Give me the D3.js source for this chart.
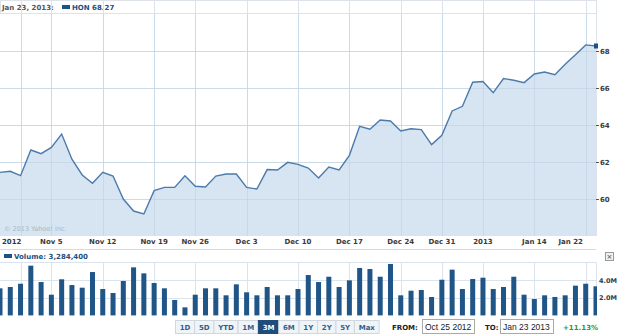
<!DOCTYPE html>
<html>
<head>
<meta charset="utf-8">
<script src="https://cdn.jsdelivr.net/npm/d3@7"></script>
<style>
  body { margin: 0; background: #fff; }
  svg { display: block; font-family: "DejaVu Sans", Verdana, sans-serif; }
  .grid line { stroke: #dbe4ed; stroke-width: 1; }
  .axislbl { font-size: 7px; font-weight: bold; fill: #3a3a3a; }
</style>
</head>
<body>
<div id="chart"></div>
<script>
// trading days, Oct 25 2012 .. Jan 23 2013
var dates = ['2012-10-25','2012-10-26','2012-10-31','2012-11-01','2012-11-02',
  '2012-11-05','2012-11-06','2012-11-07','2012-11-08','2012-11-09',
  '2012-11-12','2012-11-13','2012-11-14','2012-11-15','2012-11-16',
  '2012-11-19','2012-11-20','2012-11-21','2012-11-23',
  '2012-11-26','2012-11-27','2012-11-28','2012-11-29','2012-11-30',
  '2012-12-03','2012-12-04','2012-12-05','2012-12-06','2012-12-07',
  '2012-12-10','2012-12-11','2012-12-12','2012-12-13','2012-12-14',
  '2012-12-17','2012-12-18','2012-12-19','2012-12-20','2012-12-21',
  '2012-12-24','2012-12-26','2012-12-27','2012-12-28','2012-12-31',
  '2013-01-02','2013-01-03','2013-01-04',
  '2013-01-07','2013-01-08','2013-01-09','2013-01-10','2013-01-11',
  '2013-01-14','2013-01-15','2013-01-16','2013-01-17','2013-01-18',
  '2013-01-22','2013-01-23'];

var closes = [61.44, 61.50, 61.26, 62.65, 62.45, 62.79, 63.51, 62.15, 61.30, 60.85,
  61.44, 61.24, 60.00, 59.35, 59.19, 60.45, 60.63, 60.63, 61.26, 60.69,
  60.65, 61.24, 61.35, 61.35, 60.63, 60.54, 61.59, 61.57, 61.98, 61.87,
  61.67, 61.14, 61.73, 61.57, 62.36, 63.93, 63.77, 64.27, 64.22, 63.68,
  63.80, 63.75, 62.94, 63.44, 64.76, 65.01, 66.31, 66.35, 65.75, 66.51,
  66.42, 66.29, 66.76, 66.86, 66.72, 67.28, 67.80, 68.33, 68.27];

// volume in millions
var volumes = [3.06, 3.21, 3.58, 5.62, 3.77, 2.34, 4.08, 3.43, 3.13, 4.90,
  2.98, 2.53, 3.89, 5.43, 4.75, 3.66, 3.06, 1.74, 0.91, 2.34,
  3.06, 3.06, 2.27, 3.51, 2.61, 2.27, 3.21, 2.27, 2.27, 2.98,
  4.56, 3.77, 4.37, 3.21, 3.96, 5.36, 5.24, 4.37, 5.81, 2.27,
  2.79, 2.87, 2.08, 4.03, 5.17, 2.98, 4.11, 4.26, 2.98, 3.21,
  4.37, 2.34, 1.85, 2.27, 2.08, 2.27, 3.36, 3.58, 3.2844];

var tickDates = ['2012-10-31','2012-11-05','2012-11-12','2012-11-19','2012-11-26',
  '2012-12-03','2012-12-10','2012-12-17','2012-12-24','2012-12-31',
  '2013-01-07','2013-01-14','2013-01-22'];
var tickLabels = ['2012','Nov 5','Nov 12','Nov 19','Nov 26','Dec 3','Dec 10',
  'Dec 17','Dec 24','Dec 31','2013','Jan 14','Jan 22'];
var priceTicks = [60, 62, 64, 66, 68];
var volTicks = [2, 4];
var rangeButtons = ['1D','5D','YTD','1M','3M','6M','1Y','2Y','5Y','Max'];
var activeRange = '3M';

var width = 625, height = 335;
var plotW = 596;

var svg = d3.select('#chart').append('svg')
  .attr('width', width).attr('height', height);

var x = d3.scalePoint().domain(dates).range([0, plotW]);
var y = d3.scaleLinear().domain([58, 70]).range([236, 14]);
var yv = d3.scaleLinear().domain([0, 6]).range([315.4, 262.3]);

var last = dates.length - 1;

// header strip
svg.append('rect').attr('x', 0.5).attr('y', 0.5).attr('width', plotW).attr('height', 13)
  .attr('fill', '#fff').attr('stroke', '#dde3e9');
svg.append('text').attr('x', 2).attr('y', 10).attr('class', 'axislbl')
  .style('fill', '#555').text('Jan 23, 2013:');
svg.append('rect').attr('x', 62).attr('y', 5).attr('width', 8).attr('height', 4).attr('fill', '#1d5287');
svg.append('text').attr('x', 72).attr('y', 10).attr('class', 'axislbl')
  .style('fill', '#1d4f80').text('HON ' + closes[last].toFixed(2));

// price gridlines
var grid = svg.append('g').attr('class', 'grid');
grid.selectAll('.hg').data(priceTicks).enter().append('line')
  .attr('x1', 0).attr('x2', plotW)
  .attr('y1', function(d) { return Math.round(y(d)) + 0.5; })
  .attr('y2', function(d) { return Math.round(y(d)) + 0.5; });
grid.selectAll('.vg').data(tickDates).enter().append('line')
  .attr('x1', function(d) { return Math.round(x(d)) + 0.5; })
  .attr('x2', function(d) { return Math.round(x(d)) + 0.5; })
  .attr('y1', 0).attr('y2', 236);

// area + line
var area = d3.area()
  .x(function(d, i) { return x(dates[i]); })
  .y0(y(58)).y1(function(d) { return y(d); });
var line = d3.line()
  .x(function(d, i) { return x(dates[i]); })
  .y(function(d) { return y(d); });

svg.append('path').datum(closes).attr('d', area)
  .attr('fill', '#cfe1ef').attr('fill-opacity', 0.85);
// grid shows faintly through the fill
var grid2 = svg.append('g');
grid2.selectAll('line.h').data(priceTicks).enter().append('line')
  .attr('x1', 0).attr('x2', plotW)
  .attr('y1', function(d) { return Math.round(y(d)) + 0.5; })
  .attr('y2', function(d) { return Math.round(y(d)) + 0.5; })
  .attr('stroke', '#bfd3e3').attr('stroke-opacity', 0.6);
grid2.selectAll('line.v').data(tickDates).enter().append('line')
  .attr('x1', function(d) { return Math.round(x(d)) + 0.5; })
  .attr('x2', function(d) { return Math.round(x(d)) + 0.5; })
  .attr('y1', 14).attr('y2', 236)
  .attr('stroke', '#bfd3e3').attr('stroke-opacity', 0.6);

svg.append('path').datum(closes).attr('d', line)
  .attr('fill', 'none').attr('stroke', '#4c7aab').attr('stroke-width', 1.4);

svg.append('line').attr('x1', plotW + 0.5).attr('x2', plotW + 0.5)
  .attr('y1', 0).attr('y2', 236).attr('stroke', '#dde3e9');

svg.append('rect')
  .attr('x', x(dates[last]) - 2).attr('y', y(closes[last]) - 2.5)
  .attr('width', 4).attr('height', 5).attr('fill', '#1d5287');

svg.append('text').attr('x', 4).attr('y', 231)
  .style('font-size', '6.5px').style('fill', '#aab7c4').text('\u00a9 2013 Yahoo! Inc.');

// price axis
svg.selectAll('.ptk').data(priceTicks).enter().append('line')
  .attr('x1', plotW).attr('x2', plotW + 3)
  .attr('y1', function(d) { return Math.round(y(d)) + 0.5; })
  .attr('y2', function(d) { return Math.round(y(d)) + 0.5; })
  .attr('stroke', '#555');
svg.selectAll('.plb').data(priceTicks).enter().append('text')
  .attr('class', 'axislbl')
  .attr('x', 600).attr('y', function(d) { return y(d) + 2.5; })
  .text(function(d) { return d; });

// date labels
svg.selectAll('.xlb').data(tickDates).enter().append('text')
  .attr('class', 'axislbl')
  .attr('y', 244)
  .attr('x', function(d, i) {
    if (i === 0) return 2;
    if (i === tickDates.length - 1) return 583;
    return x(d);
  })
  .attr('text-anchor', function(d, i) {
    if (i === 0) return 'start';
    if (i === tickDates.length - 1) return 'end';
    return 'middle';
  })
  .text(function(d, i) { return tickLabels[i]; });

svg.append('line').attr('x1', 0).attr('x2', plotW).attr('y1', 249.5).attr('y2', 249.5)
  .attr('stroke', '#d5dbe1');

// volume header
svg.append('rect').attr('x', 4).attr('y', 254).attr('width', 8).attr('height', 4).attr('fill', '#1d5287');
svg.append('text').attr('x', 14).attr('y', 259).attr('class', 'axislbl')
  .style('fill', '#1d4f80')
  .text('Volume: ' + d3.format(',')(Math.round(volumes[last] * 1e6)));

// close button
svg.append('rect').attr('x', 605.5).attr('y', 252.5).attr('width', 8).attr('height', 8)
  .attr('fill', '#f0f0f0').attr('stroke', '#999');
svg.append('text').attr('x', 609.5).attr('y', 259).attr('text-anchor', 'middle')
  .style('font-size', '7px').style('fill', '#444').text('\u00d7');

// volume grid
var vg = svg.append('g').attr('class', 'grid');
vg.append('line').attr('x1', 0).attr('x2', plotW).attr('y1', 262.5).attr('y2', 262.5);
vg.selectAll('.vh').data(volTicks).enter().append('line')
  .attr('x1', 0).attr('x2', plotW)
  .attr('y1', function(d) { return Math.round(yv(d)) + 0.5; })
  .attr('y2', function(d) { return Math.round(yv(d)) + 0.5; });
vg.selectAll('.vv').data(tickDates).enter().append('line')
  .attr('x1', function(d) { return Math.round(x(d)) + 0.5; })
  .attr('x2', function(d) { return Math.round(x(d)) + 0.5; })
  .attr('y1', 262).attr('y2', 315);
svg.append('line').attr('x1', plotW + 0.5).attr('x2', plotW + 0.5)
  .attr('y1', 262).attr('y2', 315).attr('stroke', '#dde3e9');

svg.append('clipPath').attr('id', 'vclip').append('rect')
  .attr('x', 0).attr('y', 255).attr('width', plotW + 1).attr('height', 61);

svg.append('g').attr('clip-path', 'url(#vclip)')
  .selectAll('rect').data(volumes).enter().append('rect')
  .attr('x', function(d, i) { return x(dates[i]) - 2.5; })
  .attr('width', 5)
  .attr('y', function(d) { return yv(d); })
  .attr('height', function(d) { return yv(0) - yv(d); })
  .attr('fill', '#1f5587');

svg.selectAll('.vlb').data(volTicks).enter().append('text')
  .attr('class', 'axislbl')
  .style('font-size', '6.5px')
  .attr('x', 599).attr('y', function(d) { return yv(d) + 2.5; })
  .text(function(d) { return d.toFixed(1) + 'M'; });

// range buttons
var bx = 175;
var bg = svg.append('g');
rangeButtons.forEach(function(b) {
  var g = bg.append('g');
  var t = g.append('text').attr('y', 330).attr('class', 'axislbl')
    .style('fill', b === activeRange ? '#fff' : '#2d5e90').text(b);
  var w = t.node().getComputedTextLength() + 8.5;
  g.insert('rect', 'text').attr('x', bx + 0.5).attr('y', 320.5).attr('width', w).attr('height', 13)
    .attr('fill', b === activeRange ? '#1f4c7a' : '#f1f4f7')
    .attr('stroke', b === activeRange ? '#1f4c7a' : '#cfd8e0');
  t.attr('x', bx + w / 2 + 0.5).attr('text-anchor', 'middle');
  bx += w;
});

// from / to
svg.append('text').attr('x', 392).attr('y', 330).attr('class', 'axislbl').style('fill', '#222').text('FROM:');
svg.append('rect').attr('x', 422.5).attr('y', 319.5).attr('width', 52).attr('height', 14)
  .attr('fill', '#fff').attr('stroke', '#aaa');
svg.append('text').attr('x', 425).attr('y', 330)
  .style('font-family', '"Liberation Sans", Arial, sans-serif').style('font-size', '8.5px').style('fill', '#222')
  .text('Oct 25 2012');
svg.append('text').attr('x', 485).attr('y', 330).attr('class', 'axislbl').style('fill', '#222').text('TO:');
svg.append('rect').attr('x', 500.5).attr('y', 319.5).attr('width', 53).attr('height', 14)
  .attr('fill', '#fff').attr('stroke', '#aaa');
svg.append('text').attr('x', 503).attr('y', 330)
  .style('font-family', '"Liberation Sans", Arial, sans-serif').style('font-size', '8.5px').style('fill', '#222')
  .text('Jan 23 2013');
svg.append('text').attr('x', 563).attr('y', 330).attr('class', 'axislbl').style('fill', '#2e9a2e').text('+11.13%');
</script>
</body>
</html>
